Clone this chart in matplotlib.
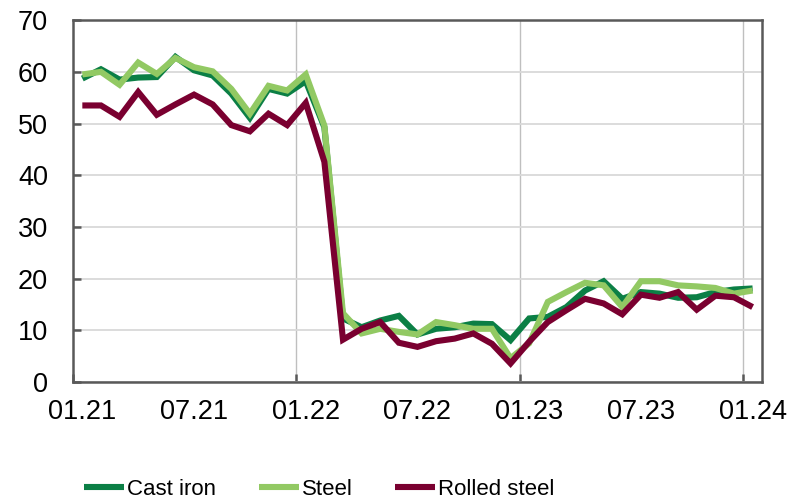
import matplotlib
matplotlib.use("Agg")
import matplotlib.pyplot as plt
from matplotlib.ticker import FixedLocator, FixedFormatter

plt.rcParams['font.family'] = ['Liberation Sans', 'DejaVu Sans']

months = ["01.21","02.21","03.21","04.21","05.21","06.21","07.21","08.21","09.21","10.21","11.21","12.21",
          "01.22","02.22","03.22","04.22","05.22","06.22","07.22","08.22","09.22","10.22","11.22","12.22",
          "01.23","02.23","03.23","04.23","05.23","06.23","07.23","08.23","09.23","10.23","11.23","12.23",
          "01.24"]

cast_iron = [58.7, 60.5, 58.5, 58.9, 59.0, 62.9, 60.3, 59.3, 55.8, 51.1, 56.7, 55.8,
             58.2, 49.3, 12.3, 10.6, 11.9, 12.8, 9.2, 10.3, 10.6, 11.3, 11.2, 8.1,
             12.3, 12.6, 14.5, 17.7, 19.5, 16.1, 17.4, 17.1, 16.3, 16.4, 17.4, 17.9, 18.1]
steel = [59.5, 60.0, 57.5, 61.8, 59.6, 62.7, 60.9, 60.1, 56.7, 51.9, 57.3, 56.4,
         59.5, 49.6, 13.3, 9.4, 10.3, 9.7, 9.2, 11.6, 11.0, 10.3, 10.3, 4.6,
         7.5, 15.5, 17.4, 19.2, 18.7, 14.5, 19.5, 19.5, 18.7, 18.5, 18.2, 17.1, 17.7]
rolled_steel = [53.5, 53.5, 51.3, 56.1, 51.7, 53.7, 55.6, 53.7, 49.7, 48.5, 51.9, 49.7,
                54.0, 42.6, 8.2, 10.3, 11.6, 7.6, 6.8, 7.9, 8.4, 9.4, 7.4, 3.6,
                7.8, 11.6, 13.9, 16.1, 15.2, 13.1, 16.9, 16.3, 17.4, 14.0, 16.7, 16.4, 14.5]

series = [("Cast iron", cast_iron, "#0B7F45"),
          ("Steel", steel, "#92C963"),
          ("Rolled steel", rolled_steel, "#7A0030")]

fig = plt.figure(figsize=(7.92, 5.04), dpi=100)
ax = fig.add_axes([0.0922, 0.242, 0.962 - 0.0922, 0.960 - 0.242])

x = [i + 0.5 for i in range(len(months))]
for name, vals, col in series:
    ax.plot(x, vals, color=col, lw=4.4, label=name, solid_joinstyle='miter', solid_capstyle='butt')

ax.set_xlim(0, len(months))
ax.set_ylim(0, 70)
ax.set_yticks(range(0, 71, 10))
ax.grid(axis='y', color='#D9D9D9', lw=1.3)
ax.set_axisbelow(True)

# major ticks at year boundaries (with vertical gridlines), labels at minor positions
major = [0, 12, 24, 36]
ax.xaxis.set_major_locator(FixedLocator(major))
ax.xaxis.set_major_formatter(FixedFormatter([""] * len(major)))
lab_idx = list(range(0, len(months), 6))
ax.xaxis.set_minor_locator(FixedLocator([i + 0.5 for i in lab_idx]))
ax.xaxis.set_minor_formatter(FixedFormatter([months[i] for i in lab_idx]))
for xv in major[1:]:
    ax.axvline(xv, color='#BFBFBF', lw=1.0, zorder=0)

ax.tick_params(axis='x', which='major', direction='in', length=6, width=1.8, color='#595959')
ax.tick_params(axis='x', which='minor', length=0, pad=12, labelsize=19.5)
ax.tick_params(axis='y', direction='in', length=6, width=1.8, color='#595959', pad=18, labelsize=19.5)

for s in ax.spines.values():
    s.set_color('#595959')
    s.set_linewidth(1.8)

leg = fig.legend(loc='lower left', bbox_to_anchor=(0.106, 0.008), ncol=3, frameon=False,
                 fontsize=16, handlelength=1.8, handletextpad=0.15, columnspacing=1.9,
                 borderpad=0.0, borderaxespad=0.0)

fig.savefig("out.png", dpi=100)
